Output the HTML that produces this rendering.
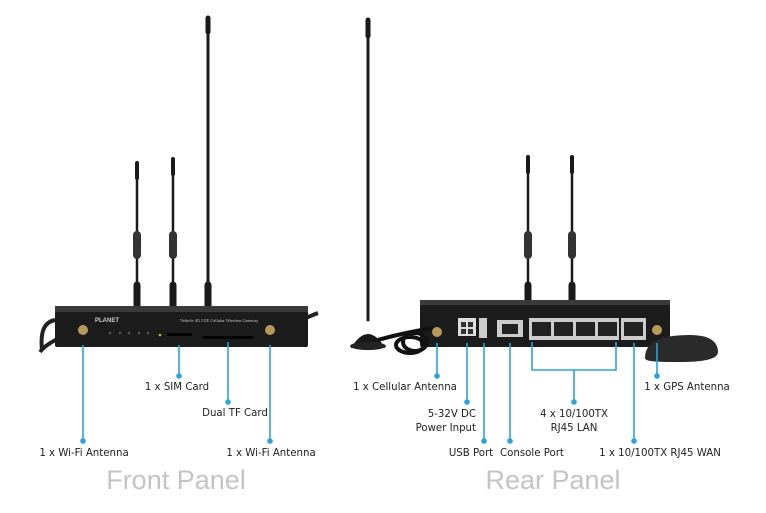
<!DOCTYPE html>
<html><head><meta charset="utf-8"><style>
html,body{margin:0;padding:0;background:#fff;width:766px;height:513px;overflow:hidden}
svg{display:block}
.t{font-family:"DejaVu Sans","Liberation Sans",sans-serif;font-size:10.2px;fill:#222}
.big{font-family:"Liberation Sans",sans-serif;font-size:27px;fill:#c4c4c4}
</style></head><body>
<svg width="766" height="513" viewBox="0 0 766 513" xmlns="http://www.w3.org/2000/svg">
<g stroke="#1a1a1a" stroke-linecap="round">
<line x1="208" y1="20" x2="208" y2="300" stroke-width="3"/>
<line x1="208" y1="18" x2="208" y2="32" stroke-width="5"/>
<line x1="208" y1="285" x2="208" y2="312" stroke-width="7"/>
<line x1="137" y1="166" x2="137" y2="300" stroke-width="2.5"/>
<line x1="137" y1="163" x2="137" y2="178" stroke-width="4"/>
<line x1="137" y1="235" x2="137" y2="255" stroke-width="8" stroke="#333"/>
<line x1="137" y1="285" x2="137" y2="312" stroke-width="7"/>
<line x1="173" y1="162" x2="173" y2="300" stroke-width="2.5"/>
<line x1="173" y1="159" x2="173" y2="174" stroke-width="4"/>
<line x1="173" y1="235" x2="173" y2="255" stroke-width="8" stroke="#333"/>
<line x1="173" y1="285" x2="173" y2="312" stroke-width="7"/>
</g>
<path d="M85 330 C60 335 45 345 40 352" stroke="#222" stroke-width="4" fill="none"/>
<path d="M55 320 C45 322 40 330 42 350" stroke="#222" stroke-width="4" fill="none"/>
<path d="M272 330 C290 325 305 318 318 313" stroke="#222" stroke-width="4" fill="none"/>
<rect x="55" y="306" width="253" height="8" fill="#3a3a3a"/>
<rect x="55" y="312" width="253" height="35" fill="#1c1c1c" rx="2"/>
<circle cx="83" cy="330" r="5" fill="#b69a5a"/>
<circle cx="270" cy="330" r="5" fill="#b69a5a"/>
<text x="95" y="322" font-size="6" fill="#ccc" font-family="Liberation Sans,sans-serif" font-weight="bold">PLANET</text>
<text x="180" y="322" font-size="4.5" fill="#ccc" font-family="Liberation Serif,serif">Vehicle 4G LTE Cellular Wireless Gateway</text>
<g fill="#555"><circle cx="110" cy="333" r="1.3"/><circle cx="120" cy="333" r="1.3"/><circle cx="129" cy="333" r="1.3"/><circle cx="139" cy="333" r="1.3"/><circle cx="148" cy="333" r="1.3"/></g>
<circle cx="160" cy="335" r="1.3" fill="#9c3"/>
<rect x="167" y="333" width="25" height="3" fill="#000"/>
<rect x="203" y="336" width="50" height="3" fill="#000"/>
<g stroke="#1a1a1a" stroke-linecap="round">
<line x1="368" y1="22" x2="368" y2="320" stroke-width="3"/>
<line x1="368" y1="20" x2="368" y2="36" stroke-width="5"/>
<line x1="528" y1="160" x2="528" y2="300" stroke-width="2.5"/>
<line x1="528" y1="157" x2="528" y2="172" stroke-width="4"/>
<line x1="528" y1="235" x2="528" y2="255" stroke-width="8" stroke="#333"/>
<line x1="528" y1="285" x2="528" y2="306" stroke-width="7"/>
<line x1="572" y1="160" x2="572" y2="300" stroke-width="2.5"/>
<line x1="572" y1="157" x2="572" y2="172" stroke-width="4"/>
<line x1="572" y1="235" x2="572" y2="255" stroke-width="8" stroke="#333"/>
<line x1="572" y1="285" x2="572" y2="306" stroke-width="7"/>
</g>
<path d="M351 348 Q368 320 385 348 Z" fill="#1a1a1a"/>
<ellipse cx="368" cy="346" rx="18" ry="4" fill="#222"/>
<rect x="420" y="300" width="250" height="7" fill="#3a3a3a"/>
<rect x="420" y="305" width="250" height="42" fill="#1c1c1c" rx="2"/>
<g fill="none" stroke="#111" stroke-width="4">
<ellipse cx="410" cy="345" rx="14" ry="8"/><ellipse cx="415" cy="342" rx="12" ry="9"/>
<path d="M378 340 C395 335 420 330 433 328"/>
</g>
<circle cx="437" cy="332" r="5" fill="#b69a5a"/>
<rect x="458" y="318" width="18" height="18" fill="#ddd"/>
<rect x="461" y="322" width="5" height="5" fill="#333"/><rect x="468" y="322" width="5" height="5" fill="#333"/>
<rect x="461" y="329" width="5" height="5" fill="#333"/><rect x="468" y="329" width="5" height="5" fill="#333"/>
<rect x="479" y="318" width="8" height="20" fill="#ccc"/>
<rect x="497" y="320" width="26" height="17" fill="#ccc"/><rect x="502" y="324" width="16" height="10" fill="#222"/>
<rect x="529" y="318" width="90" height="22" fill="#ccc"/>
<g fill="#222"><rect x="532" y="322" width="19" height="14"/><rect x="554" y="322" width="19" height="14"/><rect x="576" y="322" width="19" height="14"/><rect x="598" y="322" width="19" height="14"/></g>
<rect x="621" y="318" width="25" height="22" fill="#ccc"/><rect x="624" y="322" width="19" height="14" fill="#222"/>
<circle cx="657" cy="330" r="5" fill="#b69a5a"/>
<path d="M645 358 C645 342 660 335 690 335 C710 335 718 342 718 352 C718 360 700 362 680 362 C660 362 645 362 645 358Z" fill="#2a2a2a"/>
<g stroke="#2aa3db" stroke-width="1.6" fill="none">
<line x1="83" y1="345" x2="83" y2="441"/>
<line x1="179" y1="345" x2="179" y2="376"/>
<line x1="228" y1="342" x2="228" y2="402"/>
<line x1="270" y1="345" x2="270" y2="441"/>
<line x1="437" y1="343" x2="437" y2="376"/>
<line x1="467" y1="343" x2="467" y2="402"/>
<line x1="484" y1="343" x2="484" y2="441"/>
<line x1="510" y1="343" x2="510" y2="441"/>
<polyline points="532,342 532,370 616,370 616,342"/>
<line x1="574" y1="370" x2="574" y2="402"/>
<line x1="634" y1="343" x2="634" y2="441"/>
<line x1="657" y1="343" x2="657" y2="376"/>
</g>
<g fill="#2aa3db">
<circle cx="83" cy="441" r="2.8"/><circle cx="179" cy="376" r="2.8"/><circle cx="228" cy="402" r="2.8"/><circle cx="270" cy="441" r="2.8"/>
<circle cx="437" cy="376" r="2.8"/><circle cx="467" cy="402" r="2.8"/><circle cx="484" cy="441" r="2.8"/><circle cx="510" cy="441" r="2.8"/>
<circle cx="574" cy="402" r="2.8"/><circle cx="634" cy="441" r="2.8"/><circle cx="657" cy="376" r="2.8"/>
</g>
<text class="t" x="177" y="390" text-anchor="middle">1 x SIM Card</text>
<text class="t" x="235" y="416" text-anchor="middle">Dual TF Card</text>
<text class="t" x="84" y="456" text-anchor="middle">1 x Wi-Fi Antenna</text>
<text class="t" x="271" y="456" text-anchor="middle">1 x Wi-Fi Antenna</text>
<text class="big" x="176" y="489" text-anchor="middle">Front Panel</text>
<text class="t" x="405" y="390" text-anchor="middle">1 x Cellular Antenna</text>
<text class="t" x="476" y="417" text-anchor="end">5-32V DC</text>
<text class="t" x="476" y="431" text-anchor="end">Power Input</text>
<text class="t" x="471" y="456" text-anchor="middle">USB Port</text>
<text class="t" x="532" y="456" text-anchor="middle">Console Port</text>
<text class="t" x="574" y="417" text-anchor="middle">4 x 10/100TX</text>
<text class="t" x="574" y="431" text-anchor="middle">RJ45 LAN</text>
<text class="t" x="687" y="390" text-anchor="middle">1 x GPS Antenna</text>
<text class="t" x="660" y="456" text-anchor="middle">1 x 10/100TX RJ45 WAN</text>
<text class="big" x="553" y="489" text-anchor="middle">Rear Panel</text>
</svg>
</body></html>
